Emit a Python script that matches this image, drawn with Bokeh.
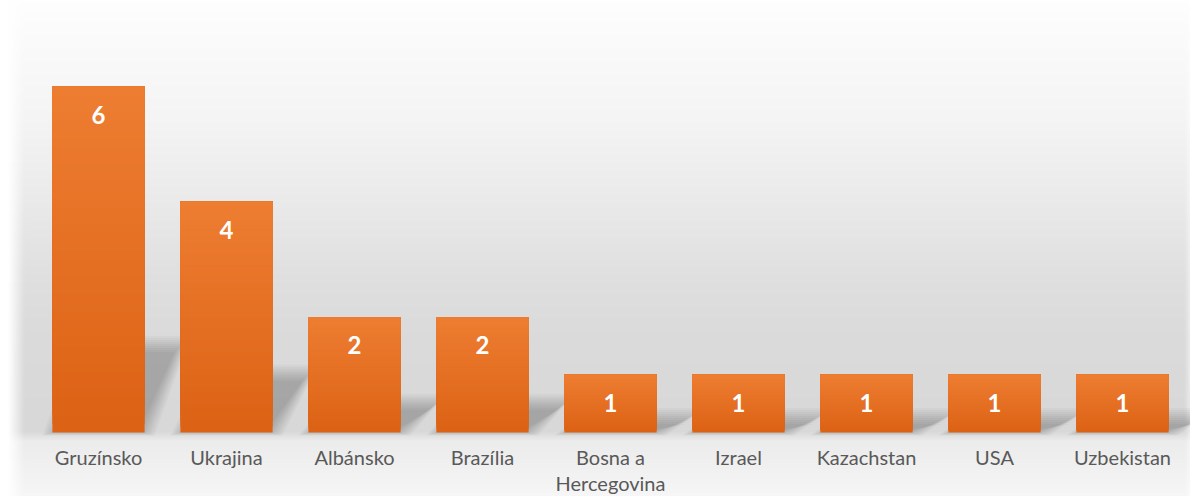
import numpy as np
from bokeh.plotting import figure
from bokeh.models import Range1d, ColumnDataSource
from bokeh.core.properties import value
from bokeh.embed import file_html
from bokeh.resources import INLINE

# ---------------- data ----------------
categories = ["Gruzínsko", "Ukrajina", "Albánsko", "Brazília", "Bosna a\nHercegovina",
              "Izrael", "Kazachstan", "USA", "Uzbekistan"]
counts = [6, 4, 2, 2, 1, 1, 1, 1, 1]

# ---------------- layout ----------------
W, H = 1190, 496
PX_X = 128.0           # pixels per category
TOP_PX = 86.0          # px of the tallest bar's top
BASE_PX = 432.0        # px of value 0 from top of figure
PX_Y = (BASE_PX - TOP_PX) / max(counts)
X0_PX = 98.0           # px of first category centre
BAR_W = 0.72

x_start = -X0_PX / PX_X
x_end = (W - X0_PX) / PX_X
y_end = BASE_PX / PX_Y
y_start = -(H - BASE_PX) / PX_Y

p = figure(width=W, height=H, output_backend="svg", toolbar_location=None,
           x_range=Range1d(x_start, x_end), y_range=Range1d(y_start, y_end),
           x_axis_type=None, y_axis_type=None, min_border=0)
p.grid.visible = False
p.outline_line_color = None
p.background_fill_color = "white"
p.border_fill_color = "white"

# ---------------- background gradient ----------------
S = 2
hh, ww = H // S, W // S
rows = np.arange(hh)
cols = np.arange(ww)
Ypx = (H - 1 - (rows * S + S / 2))
Xpx = cols * S + S / 2
Yc = [0, 20, 60, 120, 200, 280, 330, 430, 440, 467, 496]
Vc = [254, 252, 249, 244, 234, 223, 219, 216, 236, 241, 247]
v = np.interp(Ypx, Yc, Vc)
hmask = np.clip((Xpx - 8) / 16.0, 0, 1) * np.clip((1196 - Xpx) / 12.0, 0, 1)
val = 255 - (255 - v[:, None]) * hmask[None, :]
val = np.clip(val, 0, 255).astype(np.uint32)
img = ((255 << 24) | (val << 16) | (val << 8) | val).astype(np.uint32)
p.image_rgba(image=[img], x=x_start, y=y_start, dw=x_end - x_start, dh=y_end - y_start)

# ---------------- soft perspective shadows ----------------
DX = 36.0 / PX_X
K = 0.25
for e in [-6, -4, -2, 0, 2, 4, 6, 8, 10]:
    ex, ey = e / PX_X, e / PX_Y
    xs, ys = [], []
    for i, c in enumerate(counts):
        xl, xr = i - BAR_W / 2, i + BAR_W / 2
        top = K * c
        bot = -0.3 * ey
        xs.append([xl - ex, xr + ex, xr + DX + ex, xl + DX - ex])
        ys.append([bot, bot, top + ey, top + ey])
    p.patches(xs, ys, fill_color="black", fill_alpha=0.026, line_color=None)

# ---------------- bars (vertical gradient) ----------------
top_rgb = np.array([0xED, 0x7D, 0x31], dtype=float)
bot_rgb = np.array([0xDC, 0x62, 0x15], dtype=float)
N = 40
for k in range(N):
    t = k / (N - 1)
    col = bot_rgb + (top_rgb - bot_rgb) * t
    colhex = "#%02x%02x%02x" % tuple(int(round(c)) for c in col)
    src = ColumnDataSource(dict(
        left=[i - BAR_W / 2 for i in range(len(counts))],
        right=[i + BAR_W / 2 for i in range(len(counts))],
        bottom=[c * k / N for c in counts],
        top=list(counts)))
    p.quad(left="left", right="right", bottom="bottom", top="top", source=src,
           fill_color=colhex, line_color=None)

# ---------------- value labels ----------------
lab = ColumnDataSource(dict(x=list(range(len(counts))), y=counts, t=[str(c) for c in counts]))
p.text(x="x", y="y", text="t", source=lab, text_font=value("Lato"), text_font_style="bold",
       text_font_size="24px", text_color="white", text_align="center",
       text_baseline="middle", y_offset=28)

# ---------------- category labels ----------------
cat = ColumnDataSource(dict(x=list(range(len(categories))), y=[0] * len(categories), t=categories))
p.text(x="x", y="y", text="t", source=cat, text_font=value("Lato"),
       text_font_size="20px", text_color="#595959", text_align="center",
       text_baseline="top", y_offset=12, text_line_height=1.12)

open("out.html", "w").write(file_html(p, INLINE))
